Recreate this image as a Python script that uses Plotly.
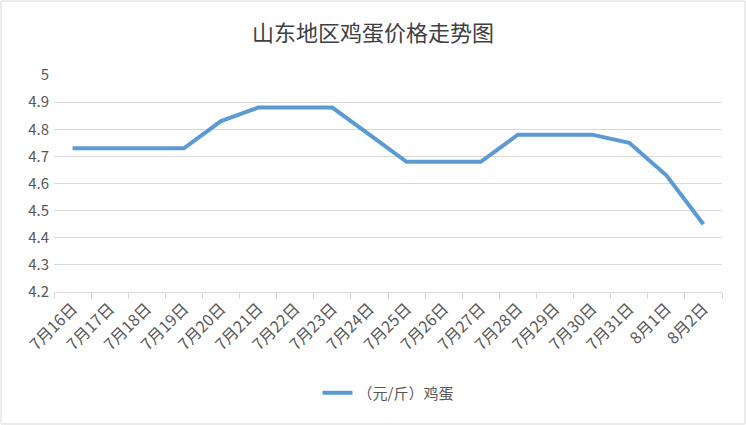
import plotly.graph_objects as go

# egg price, Shandong region
dates = ['7月16日', '7月17日', '7月18日', '7月19日', '7月20日', '7月21日', '7月22日',
         '7月23日', '7月24日', '7月25日', '7月26日', '7月27日', '7月28日', '7月29日',
         '7月30日', '7月31日', '8月1日', '8月2日']
prices = [4.73, 4.73, 4.73, 4.73, 4.83, 4.88, 4.88, 4.88, 4.78, 4.68, 4.68, 4.68,
          4.78, 4.78, 4.78, 4.75, 4.63, 4.45]
series_name = '（元/斤）鸡蛋'
title = '山东地区鸡蛋价格走势图'
ytick_vals = [4.2, 4.3, 4.4, 4.5, 4.6, 4.7, 4.8, 4.9, 5.0]
ytick_text = ['4.2', '4.3', '4.4', '4.5', '4.6', '4.7', '4.8', '4.9', '5']

W, H = 746, 425
ml, mr, mt, mb = 54, 24, 75, 133
font = 'Noto Sans CJK SC'
grey = '#595959'

fig = go.Figure()
fig.add_trace(go.Scatter(x=dates, y=prices, mode='lines', name=series_name,
                         line=dict(color='#5B9BD5', width=4)))

pw, ph = W - ml - mr, H - mt - mb
fig.update_layout(
    width=W, height=H,
    margin=dict(l=ml, r=mr, t=mt, b=mb, autoexpand=False),
    plot_bgcolor='white', paper_bgcolor='white',
    font=dict(family=font, color=grey, size=13),
    title=dict(text=title, x=0.5, xanchor='center', y=1 - 33 / H, yanchor='middle',
               font=dict(size=22, color='#404040')),
    showlegend=True,
    legend=dict(orientation='h', x=0.5, xanchor='center', y=-101 / ph, yanchor='middle',
                font=dict(size=15, color=grey)),
    xaxis=dict(type='category', range=[-0.5, len(dates) - 0.5], tickangle=-45,
               tickson='boundaries', ticks='outside', automargin=False,
               ticklen=6, tickcolor='#D9D9D9', showline=True, linecolor='#D9D9D9',
               showgrid=False, tickfont=dict(size=16, color=grey)),
    yaxis=dict(range=[4.2, 5.0], tickvals=ytick_vals, ticktext=ytick_text,
               gridcolor='#D9D9D9', automargin=False,
               zeroline=False, showline=False, ticks='', ticklabelstandoff=4,
               tickfont=dict(size=15, color=grey)),
    shapes=[dict(type='rect', xref='paper', yref='paper',
                 x0=-(ml - 1) / pw, x1=1 + (mr - 1) / pw,
                 y0=-(mb - 1) / ph, y1=1 + (mt - 1) / ph,
                 line=dict(color='#D9D9D9', width=1))],
)

# drop the default page margin so the chart sits at the window origin
fig.write_html('out.html', config={'displayModeBar': False},
               post_script="document.body.style.margin='0';")
